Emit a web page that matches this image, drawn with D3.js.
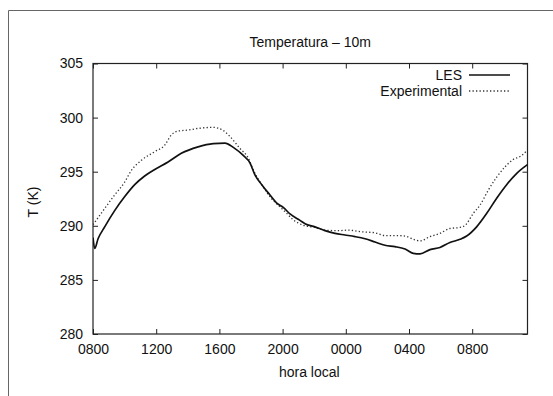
<!DOCTYPE html>
<html>
<head>
<meta charset="utf-8">
<script src="https://cdn.jsdelivr.net/npm/d3@7"></script>
<style>
  html, body { margin: 0; padding: 0; background: #fff; }
  svg text { font-family: "Liberation Sans", Arial, Helvetica, sans-serif; fill: #111; }
</style>
</head>
<body>
<svg id="chart" width="553" height="396"></svg>
<script>
// Simulation time (hours since 00:00 of day 1) and 10 m temperature (K)
const lesHours = [8.0, 8.11, 8.32, 8.74, 9.37, 10.01, 10.64, 11.27, 11.91, 12.75, 13.59, 14.65, 15.61, 16.35, 16.88, 17.51, 17.94, 18.25, 18.68, 19.2, 19.63, 20.04, 20.47, 21.1, 21.42, 22.05, 22.68, 23.32, 23.95, 24.58, 25.22, 25.85, 26.48, 27.11, 27.75, 28.27, 28.7, 29.33, 29.96, 30.59, 31.23, 31.65, 32.28, 32.92, 33.55, 34.18, 34.82, 35.5];
const lesTemp = [288.9, 287.9, 288.8, 289.9, 291.4, 292.7, 293.8, 294.6, 295.2, 295.9, 296.7, 297.3, 297.6, 297.65, 297.25, 296.5, 295.8, 294.7, 293.8, 292.85, 292.1, 291.7, 291.1, 290.5, 290.2, 289.9, 289.55, 289.3, 289.15, 289.0, 288.8, 288.5, 288.2, 288.07, 287.85, 287.45, 287.4, 287.8, 288.0, 288.45, 288.75, 289.05, 289.9, 291.15, 292.55, 293.8, 294.85, 295.65];

const expHours = [8.0, 8.74, 9.37, 10.01, 10.42, 11.06, 11.91, 12.54, 12.96, 13.38, 14.01, 14.65, 15.61, 16.25, 16.67, 17.3, 17.83, 18.15, 18.68, 19.31, 19.84, 20.26, 20.68, 21.0, 21.42, 22.05, 22.68, 23.53, 24.16, 25.0, 25.85, 26.48, 27.11, 27.75, 28.38, 28.7, 29.33, 29.96, 30.59, 31.23, 31.56, 32.07, 32.49, 33.02, 33.55, 34.08, 34.61, 35.03, 35.5];
const expTemp = [290.1, 291.6, 292.85, 294.05, 295.1, 296.05, 296.85, 297.45, 298.4, 298.75, 298.85, 299.0, 299.1, 298.8, 298.25, 297.15, 296.25, 295.15, 293.8, 292.5, 291.75, 291.15, 290.55, 290.25, 290.0, 289.85, 289.6, 289.55, 289.6, 289.45, 289.35, 289.1, 289.1, 289.05, 288.7, 288.6, 289.0, 289.3, 289.75, 289.85, 290.05, 291.15, 291.9, 293.3, 294.5, 295.45, 296.15, 296.4, 297.0];

const xTicks = [8, 12, 16, 20, 24, 28, 32];
const xTickLabels = ["0800", "1200", "1600", "2000", "0000", "0400", "0800"];
const yTicks = [280, 285, 290, 295, 300, 305];

const titleText = "Temperatura \u2013 10m";
const xLabel = "hora local";
const yLabel = "T (K)";
const seriesNames = ["LES", "Experimental"];

const svg = d3.select("#chart");
const plotL = 93, plotR = 527.5, plotT = 63.5, plotB = 334;

const x = d3.scaleLinear().domain([8, 35.5]).range([plotL, plotR]);
const y = d3.scaleLinear().domain([280, 305]).range([plotB, plotT]);

// outer frame
svg.append("path")
  .attr("d", `M8.5,396 V10.5 H553`)
  .attr("fill", "none").attr("stroke", "#666").attr("stroke-width", 1);

// axes: ticks pointing inward, mirrored on the opposite sides
const tickLen = 5;
const axB = d3.axisBottom(x).tickValues(xTicks).tickSize(-tickLen).tickPadding(10)
  .tickFormat((d, i) => xTickLabels[i]);
const axT = d3.axisTop(x).tickValues(xTicks).tickSize(-tickLen).tickFormat("");
const axL = d3.axisLeft(y).tickValues(yTicks).tickSize(-tickLen).tickPadding(10)
  .tickFormat(d3.format("d"));
const axR = d3.axisRight(y).tickValues(yTicks).tickSize(-tickLen).tickFormat("");

function styleAxis(g) {
  g.select(".domain").remove();
  g.selectAll(".tick line").attr("stroke", "#222");
  g.selectAll(".tick text").attr("font-size", 14).attr("fill", "#111")
    .attr("font-family", "Liberation Sans, Arial, sans-serif");
}
svg.append("g").attr("transform", `translate(0,${plotB})`).call(axB).call(styleAxis);
svg.append("g").attr("transform", `translate(0,${plotT})`).call(axT).call(styleAxis);
svg.append("g").attr("transform", `translate(${plotL},0)`).call(axL).call(styleAxis);
svg.append("g").attr("transform", `translate(${plotR},0)`).call(axR).call(styleAxis);

// plot border
svg.append("rect")
  .attr("x", plotL).attr("y", plotT).attr("width", plotR - plotL).attr("height", plotB - plotT)
  .attr("fill", "none").attr("stroke", "#222").attr("stroke-width", 1.2);

const line = d3.line().x(d => x(d[0])).y(d => y(d[1])).curve(d3.curveMonotoneX);

const lesData = lesHours.map((h, i) => [h, lesTemp[i]]);
const expData = expHours.map((h, i) => [h, expTemp[i]]);

svg.append("clipPath").attr("id", "plotclip")
  .append("rect").attr("x", plotL).attr("y", plotT).attr("width", plotR - plotL).attr("height", plotB - plotT);

svg.append("path").datum(expData)
  .attr("clip-path", "url(#plotclip)")
  .attr("d", line).attr("fill", "none")
  .attr("stroke", "#333").attr("stroke-width", 1.3).attr("stroke-dasharray", "1.3,2.2");

svg.append("path").datum(lesData)
  .attr("clip-path", "url(#plotclip)")
  .attr("d", line).attr("fill", "none")
  .attr("stroke", "#111").attr("stroke-width", 1.7).attr("stroke-linejoin", "round");

// title and axis labels
svg.append("text").attr("x", (plotL + plotR) / 2).attr("y", 47)
  .attr("text-anchor", "middle").attr("font-size", 14).text(titleText);
svg.append("text").attr("x", (plotL + plotR) / 2 - 1).attr("y", 377)
  .attr("text-anchor", "middle").attr("font-size", 14).text(xLabel);
svg.append("text").attr("transform", "translate(38,202) rotate(-90)")
  .attr("text-anchor", "middle").attr("font-size", 14).text(yLabel);

// legend
const legend = svg.append("g");
const legY = [75, 91];
seriesNames.forEach((name, i) => {
  legend.append("text").attr("x", 462).attr("y", legY[i] + 5)
    .attr("text-anchor", "end").attr("font-size", 14).text(name);
  const ln = legend.append("line")
    .attr("x1", 469).attr("x2", 510).attr("y1", legY[i]).attr("y2", legY[i]);
  if (i === 0) ln.attr("stroke", "#111").attr("stroke-width", 1.7);
  else ln.attr("stroke", "#333").attr("stroke-width", 1.3).attr("stroke-dasharray", "1.3,2.2");
});
</script>
</body>
</html>
